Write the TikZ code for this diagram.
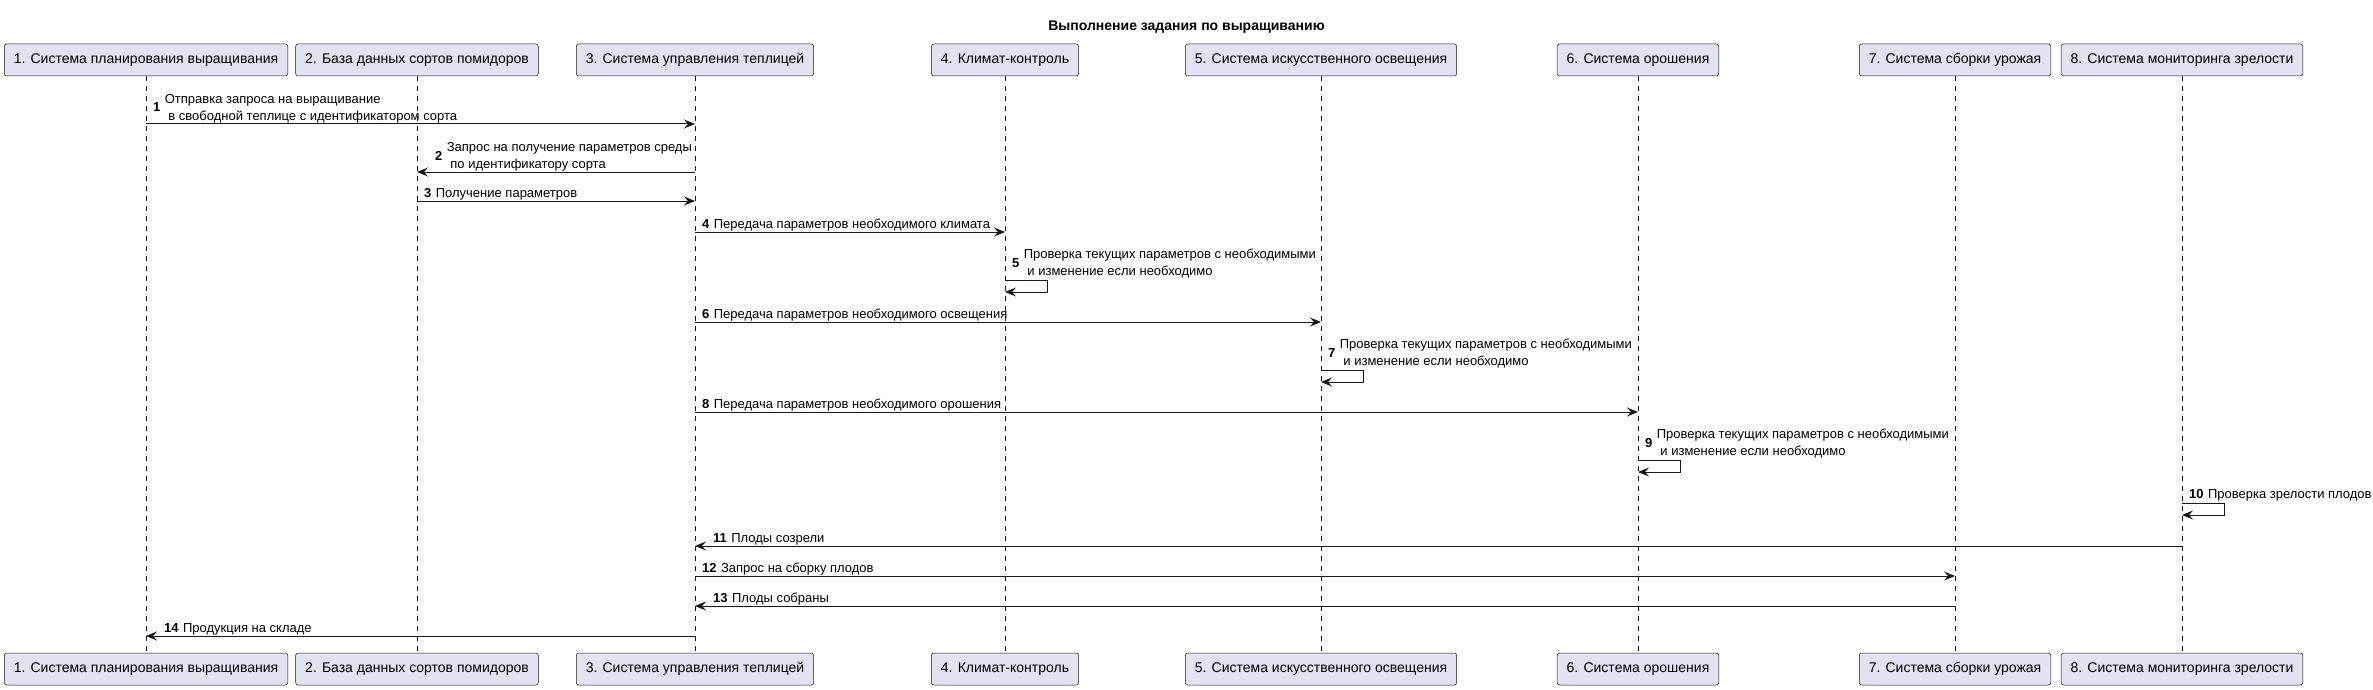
\documentclass[tikz,border=0pt]{standalone}
\usepackage{fontspec}
\setmainfont{Liberation Sans}
\usetikzlibrary{arrows.meta,positioning}
\definecolor{partfill}{HTML}{E2E2F0}
\definecolor{umlline}{HTML}{181818}
\tikzset{
  part/.style={draw=umlline,fill=partfill,line width=0.5pt,rounded corners=2.5pt,minimum height=32pt,inner xsep=9.5pt,font=\fontsize{14}{16}\selectfont},
  life/.style={umlline,line width=0.5pt,dash pattern=on 5pt off 5pt},
  msg/.style={umlline,line width=1pt,-{Stealth[length=11pt,width=9pt,inset=4pt]}},
  num/.style={inner sep=0pt,anchor=base west,font=\fontsize{13}{16}\selectfont\bfseries},
  lbl/.style={inner sep=0pt,anchor=base west,font=\fontsize{13}{16}\selectfont}
}
\begin{document}
\begin{tikzpicture}[x=1pt,y=-1pt]
\useasboundingbox (0,0) rectangle (2373,690);
\node[anchor=base,font=\fontsize{14}{16}\selectfont\bfseries] (title) at (1186.5,31) {Выполнение задания по выращиванию};
%participants and lifelines
\foreach \i/\x/\name in {1/146/{1. Система планирования выращивания},2/417/{2. База данных сортов помидоров},3/695/{3. Система управления теплицей},4/1005/{4. Климат-контроль},5/1321/{5. Система искусственного освещения},6/1638/{6. Система орошения},7/1955/{7. Система сборки урожая},8/2182/{8. Система мониторинга зрелости}}
{
\node[part] (top\i) at (\x,60) {\name};
\node[part] (bot\i) at (\x,669) {\name};
\draw[life] (top\i.south) -- (bot\i.north);
}
%messages
\draw[msg] (top1 |- 0,124) -- (top3 |- 0,124);
\node[num] (n1) at (153,112) {1};
\node[lbl] (t1a) at ([xshift=4pt,yshift=8.25pt]n1.base east) {Отправка запроса на выращивание};
\node[lbl] (t1b) at ([yshift=-16.5pt]t1a.base west) {\ в свободной теплице с идентификатором сорта};
\draw[msg] (top3 |- 0,172) -- (top2 |- 0,172);
\node[num] (n2) at (435,160) {2};
\node[lbl] (t2a) at ([xshift=4pt,yshift=8.25pt]n2.base east) {Запрос на получение параметров среды};
\node[lbl] (t2b) at ([yshift=-16.5pt]t2a.base west) {\ по идентификатору сорта};
\draw[msg] (top2 |- 0,201) -- (top3 |- 0,201);
\node[num] (n3) at (424,197) {3};
\node[lbl] (t3) at ([xshift=4pt]n3.base east) {Получение параметров};
\draw[msg] (top3 |- 0,232) -- (top4 |- 0,232);
\node[num] (n4) at (702,228) {4};
\node[lbl] (t4) at ([xshift=4pt]n4.base east) {Передача параметров необходимого климата};
\draw[msg] (top4 |- 0,280) -- ++(42,0) -- ++(0,12) -- (top4 |- 0,292);
\node[num] (n5) at (1012,267) {5};
\node[lbl] (t5a) at ([xshift=4pt,yshift=8.25pt]n5.base east) {Проверка текущих параметров с необходимыми};
\node[lbl] (t5b) at ([yshift=-16.5pt]t5a.base west) {\ и изменение если необходимо};
\draw[msg] (top3 |- 0,322) -- (top5 |- 0,322);
\node[num] (n6) at (702,318) {6};
\node[lbl] (t6) at ([xshift=4pt]n6.base east) {Передача параметров необходимого освещения};
\draw[msg] (top5 |- 0,370) -- ++(42,0) -- ++(0,12) -- (top5 |- 0,382);
\node[num] (n7) at (1328,357) {7};
\node[lbl] (t7a) at ([xshift=4pt,yshift=8.25pt]n7.base east) {Проверка текущих параметров с необходимыми};
\node[lbl] (t7b) at ([yshift=-16.5pt]t7a.base west) {\ и изменение если необходимо};
\draw[msg] (top3 |- 0,412) -- (top6 |- 0,412);
\node[num] (n8) at (702,408) {8};
\node[lbl] (t8) at ([xshift=4pt]n8.base east) {Передача параметров необходимого орошения};
\draw[msg] (top6 |- 0,460) -- ++(42,0) -- ++(0,12) -- (top6 |- 0,472);
\node[num] (n9) at (1645,447) {9};
\node[lbl] (t9a) at ([xshift=4pt,yshift=8.25pt]n9.base east) {Проверка текущих параметров с необходимыми};
\node[lbl] (t9b) at ([yshift=-16.5pt]t9a.base west) {\ и изменение если необходимо};
\draw[msg] (top8 |- 0,503) -- ++(42,0) -- ++(0,12) -- (top8 |- 0,515);
\node[num] (n10) at (2189,498) {10};
\node[lbl] (t10) at ([xshift=4pt]n10.base east) {Проверка зрелости плодов};
\draw[msg] (top8 |- 0,546) -- (top3 |- 0,546);
\node[num] (n11) at (713,542) {11};
\node[lbl] (t11) at ([xshift=4pt]n11.base east) {Плоды созрели};
\draw[msg] (top3 |- 0,576) -- (top7 |- 0,576);
\node[num] (n12) at (702,572) {12};
\node[lbl] (t12) at ([xshift=4pt]n12.base east) {Запрос на сборку плодов};
\draw[msg] (top7 |- 0,606) -- (top3 |- 0,606);
\node[num] (n13) at (713,602) {13};
\node[lbl] (t13) at ([xshift=4pt]n13.base east) {Плоды собраны};
\draw[msg] (top3 |- 0,636) -- (top1 |- 0,636);
\node[num] (n14) at (164,632) {14};
\node[lbl] (t14) at ([xshift=4pt]n14.base east) {Продукция на складе};
\end{tikzpicture}
\end{document}
